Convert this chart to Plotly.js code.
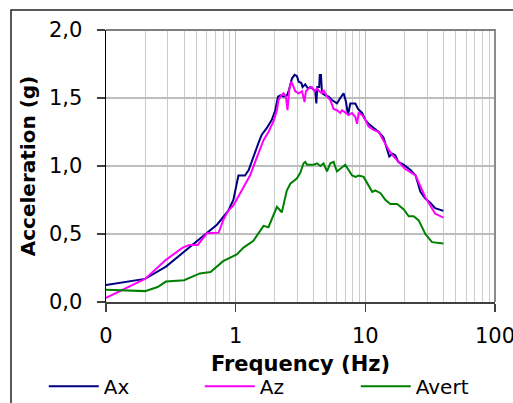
<!DOCTYPE html>
<html>
<head>
<meta charset="utf-8">
<script src="https://cdn.plot.ly/plotly-3.0.1.min.js"></script>
<style>body{margin:0;padding:0;background:#fff}#chart{width:513px;height:403px}</style>
</head>
<body>
<div id="chart"></div>
<script>
// Frequency (Hz) and acceleration (g) values
var axFreq = [0.1,0.2,0.29,0.39,0.53,0.72,0.875,0.96,1.05,1.18,1.26,1.37,1.5,1.59,1.74,1.9,2.02,2.12,2.21,2.34,2.49,2.56,2.64,2.72,2.85,2.97,3.06,3.21,3.28,3.44,3.61,3.76,3.9,4.11,4.19,4.26,4.41,4.45,4.55,4.63,4.91,5.21,5.53,5.86,6.04,6.41,6.8,7.1,7.35,7.66,8.37,8.78,9.44,10.0,10.6,11.6,12.7,13.8,14.5,15.3,16.2,17,18,19.7,22.3,24.4,26.6,29,31.7,34.5,40];
var axVal  = [0.125,0.17,0.26,0.36,0.47,0.57,0.67,0.75,0.93,0.93,0.97,1.07,1.17,1.23,1.28,1.34,1.41,1.51,1.52,1.51,1.52,1.55,1.61,1.645,1.67,1.66,1.62,1.61,1.58,1.6,1.57,1.58,1.57,1.55,1.46,1.58,1.58,1.67,1.67,1.535,1.52,1.51,1.485,1.47,1.46,1.5,1.535,1.47,1.375,1.46,1.46,1.42,1.39,1.34,1.31,1.28,1.25,1.21,1.15,1.07,1.09,1.08,1.03,1.01,0.97,0.93,0.81,0.76,0.73,0.69,0.67];

var azFreq = [0.1,0.2,0.29,0.39,0.44,0.51,0.6,0.74,0.8,0.875,0.96,1.08,1.18,1.29,1.4,1.64,1.79,1.96,2.08,2.14,2.25,2.34,2.44,2.51,2.59,2.68,2.75,2.88,3.06,3.25,3.4,3.48,3.65,3.87,4.06,4.24,4.41,4.63,4.76,5.06,5.37,5.69,6.04,6.41,6.61,7.01,7.43,7.89,8.37,8.63,8.88,9.44,10.0,10.6,11.6,12.7,13.8,15.1,16.5,17.6,20.2,24.4,29,34.5,40];
var azVal  = [0.03,0.17,0.31,0.4,0.42,0.42,0.505,0.51,0.6,0.67,0.71,0.8,0.87,0.93,1.02,1.19,1.25,1.33,1.41,1.485,1.52,1.535,1.51,1.41,1.56,1.62,1.6,1.55,1.535,1.55,1.47,1.55,1.57,1.58,1.55,1.57,1.55,1.535,1.56,1.51,1.485,1.42,1.41,1.39,1.41,1.39,1.375,1.39,1.36,1.31,1.39,1.375,1.34,1.29,1.265,1.25,1.19,1.12,1.07,1.04,0.98,0.93,0.77,0.65,0.62];

var avFreq = [0.1,0.2,0.25,0.29,0.4,0.53,0.64,0.8,1.02,1.15,1.37,1.64,1.79,1.96,2.08,2.27,2.34,2.48,2.64,2.97,3.15,3.34,3.44,3.55,4.0,4.24,4.5,4.76,5.06,5.37,5.69,6.04,6.41,7.0,7.43,7.9,8.4,8.9,9.7,10.6,11.3,11.9,13.1,14.3,15.6,17.6,19.8,21.6,23.6,25.8,29,30.8,32.7,40];
var avVal  = [0.09,0.08,0.11,0.15,0.16,0.21,0.22,0.3,0.35,0.4,0.45,0.56,0.55,0.65,0.7,0.66,0.71,0.82,0.87,0.91,0.95,1.02,1.03,1.01,1.01,1.02,1.0,1.02,0.96,1.02,1.03,0.96,0.98,1.01,0.97,0.93,0.92,0.93,0.92,0.85,0.81,0.82,0.8,0.75,0.72,0.72,0.68,0.63,0.63,0.6,0.5,0.47,0.44,0.43];

var seriesNames = ['Ax','Az','Avert'];
var xTickVals = [0.1,1,10,100];
var xTickText = ['0','1','10','100'];
var xMinorVals = [0.2,0.3,0.4,0.5,0.6,0.7,0.8,0.9,2,3,4,5,6,7,8,9,20,30,40,50,60,70,80,90];

var FONT = 'DejaVu Sans, Arial, sans-serif';
var traces = [
  {x: axFreq, y: axVal, name: seriesNames[0], mode: 'lines', line: {color: '#000080', width: 2}},
  {x: azFreq, y: azVal, name: seriesNames[1], mode: 'lines', line: {color: '#ff00ff', width: 2}},
  {x: avFreq, y: avVal, name: seriesNames[2], mode: 'lines', line: {color: '#008000', width: 2}}
];

var layout = {
  width: 513, height: 403,
  margin: {l: 106, r: 18, t: 30, b: 101, pad: 0, autoexpand: false},
  paper_bgcolor: '#ffffff', plot_bgcolor: '#ffffff',
  separators: ', ',
  font: {family: FONT, color: '#000', size: 21},
  showlegend: true,
  legend: {orientation: 'h', x: -0.16, xanchor: 'left', y: -0.31, yanchor: 'middle',
           font: {family: FONT, size: 20, color: '#000'}, itemwidth: 50,
           entrywidth: 91, entrywidthmode: 'pixels', bgcolor: 'rgba(0,0,0,0)', tracegroupgap: 0},
  xaxis: {
    type: 'log', range: [-1, 2], autorange: false,
    tickmode: 'array', tickvals: xTickVals, ticktext: xTickText,
    ticks: 'outside', ticklen: 8, tickwidth: 1.5, tickcolor: '#404040',
    showline: true, linecolor: '#404040', linewidth: 1.5,
    showgrid: true, gridcolor: '#bdbdbd', gridwidth: 1,
    minor: {tickmode: 'array', tickvals: xMinorVals, showgrid: true, gridcolor: '#cccccc', gridwidth: 1, ticks: ''},
    tickfont: {family: FONT, size: 21, color: '#000'},
    ticklabelstandoff: 6,
    ticklabeloverflow: 'allow',
    zeroline: false,
    title: {text: '<b>Frequency (Hz)</b>', font: {family: FONT, size: 21, color: '#000'}, standoff: 9}
  },
  yaxis: {
    range: [0, 2], autorange: false, tickmode: 'linear', tick0: 0, dtick: 0.5,
    tickformat: '.1f',
    ticks: 'outside', ticklen: 8, tickwidth: 1.5, tickcolor: '#404040',
    showline: true, linecolor: '#000000', linewidth: 1.5,
    showgrid: true, gridcolor: '#bdbdbd', gridwidth: 1.2,
    tickfont: {family: FONT, size: 21, color: '#000'},
    ticklabelstandoff: 10,
    zeroline: false,
    title: {text: '<b>Acceleration (g)</b>', font: {family: FONT, size: 20, color: '#000'}, standoff: 8}
  },
  shapes: [
    {type: 'path', xref: 'paper', yref: 'paper', path: 'M 0,1 L 1,1 L 1,0', line: {color: '#808080', width: 1.8}, layer: 'above'},
    {type: 'path', xref: 'paper', yref: 'paper', path: 'M -0.2442,-0.5 L -0.2442,1.0735 L 1.2,1.0735', line: {color: '#222222', width: 1.5}}
  ]
};

Plotly.newPlot('chart', traces, layout, {displayModeBar: false, staticPlot: true});
</script>
</body>
</html>
